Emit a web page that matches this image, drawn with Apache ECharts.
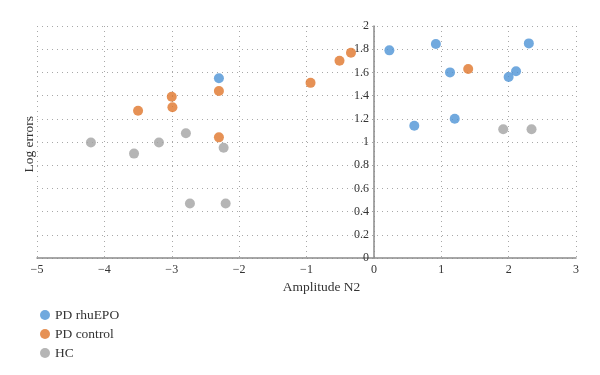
<!DOCTYPE html>
<html>
<head>
<meta charset="utf-8">
<script src="https://cdn.jsdelivr.net/npm/echarts@6/dist/echarts.min.js"></script>
<style>
  html, body { margin: 0; padding: 0; background: #fff; }
  #chart { width: 600px; height: 375px; }
</style>
</head>
<body>
<div id="chart"></div>
<script>
// [amplitude N2, log errors]
const rhuEpo = [
  [-2.30, 1.55], [0.23, 1.79], [0.92, 1.845], [1.13, 1.60], [0.60, 1.14],
  [1.20, 1.20], [2.00, 1.56], [2.11, 1.61], [2.30, 1.85]
];
const pdControl = [
  [-2.30, 1.44], [-3.00, 1.39], [-2.99, 1.30], [-3.50, 1.27], [-2.30, 1.04],
  [-0.94, 1.51], [-0.51, 1.70], [-0.34, 1.77], [1.40, 1.63]
];
const hc = [
  [-4.20, 0.995], [-3.56, 0.90], [-3.19, 0.995], [-2.79, 1.075], [-2.23, 0.95],
  [-2.73, 0.47], [-2.20, 0.47], [1.92, 1.11], [2.34, 1.11]
];
const seriesNames = ['PD rhuEPO', 'PD control', 'HC'];

const serif = '"Liberation Serif", "DejaVu Serif", serif';
const chart = echarts.init(document.getElementById('chart'));

const gridLine = { show: true, lineStyle: { color: '#a8a8a8', type: [1, 4], width: 1 } };

// the y axis sits at x = 0, i.e. 5/8 of the plot width from the left edge
const plotWidth = 600 - 37 - 24;
const yAxisShift = plotWidth * 5 / 8;

const options = {
  animation: false,
  color: ['#4E93D6', '#E0762A', '#A3A3A3'],
  textStyle: { fontFamily: serif },
  grid: { left: 37, right: 24, top: 26, bottom: 117 },
  legend: {
    orient: 'vertical',
    left: 35,
    top: 303,
    itemGap: 5,
    icon: 'circle',
    itemWidth: 10,
    itemHeight: 10,
    textStyle: { fontFamily: serif, fontSize: 13.5, color: '#333' },
    data: seriesNames
  },
  graphic: [{
    type: 'text',
    left: 22,
    top: 116,
    rotation: Math.PI / 2,
    style: { text: 'Log errors', font: '13.5px ' + serif, fill: '#333' }
  }],
  xAxis: {
    type: 'value',
    min: -5,
    max: 3,
    interval: 1,
    name: 'Amplitude N2',
    nameLocation: 'middle',
    nameGap: 22,
    nameTextStyle: { fontFamily: serif, fontSize: 13.5, color: '#333', padding: [0, 0, 0, 30] },
    axisLine: { onZero: false, lineStyle: { color: '#8a8a8a', width: 1.5 } },
    axisTick: { show: false },
    axisLabel: {
      color: '#333', fontSize: 12, margin: 6,
      formatter: v => String(v).replace('-', '\u2212')
    },
    splitLine: gridLine
  },
  yAxis: {
    type: 'value',
    min: 0,
    max: 2,
    interval: 0.2,
    offset: -yAxisShift,
    axisLine: { show: true, onZero: false, lineStyle: { color: '#8a8a8a', width: 1.5 } },
    axisTick: { show: false },
    axisLabel: {
      color: '#333', fontSize: 12, margin: 5,
      formatter: v => String(Math.round(v * 10) / 10)
    },
    splitLine: gridLine
  },
  series: [
    { name: seriesNames[0], type: 'scatter', symbolSize: 10, data: rhuEpo },
    { name: seriesNames[1], type: 'scatter', symbolSize: 10, data: pdControl },
    { name: seriesNames[2], type: 'scatter', symbolSize: 10, data: hc }
  ]
};
chart.setOption(options);
</script>
</body>
</html>
